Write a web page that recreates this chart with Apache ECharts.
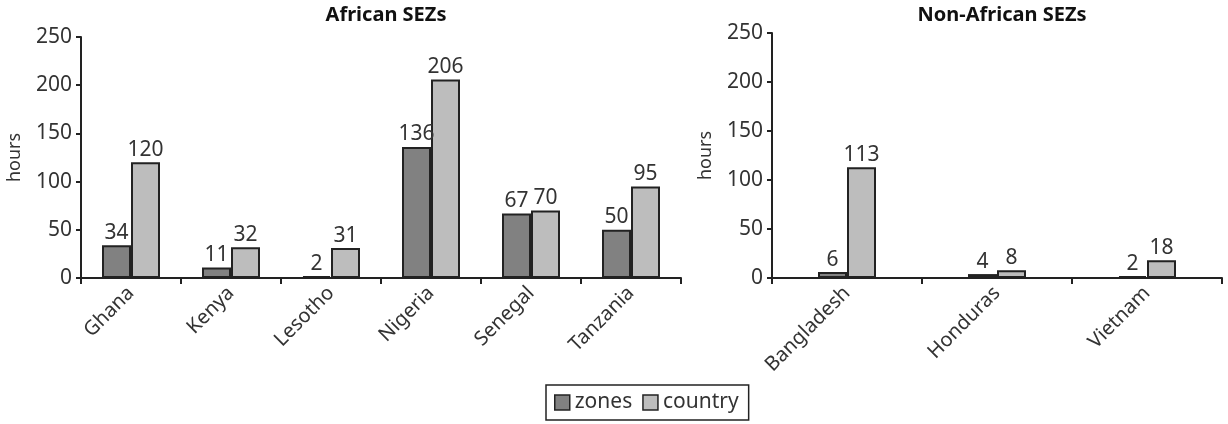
<!DOCTYPE html>
<html><head><meta charset="utf-8">
<script src="https://cdn.jsdelivr.net/npm/echarts@6/dist/echarts.min.js"></script>
<style>html,body{margin:0;padding:0;background:#fff}#c{width:1228px;height:424px}</style>
</head><body><div id="c"></div>
<script>
const africanCats = ['Ghana','Kenya','Lesotho','Nigeria','Senegal','Tanzania'];
const africanZones = [34,11,2,136,67,50];
const africanCountry = [120,32,31,206,70,95];
const nonAfricanCats = ['Bangladesh','Honduras','Vietnam'];
const nonAfricanZones = [6,4,2];
const nonAfricanCountry = [113,8,18];
const yTicks = [0,50,100,150,200,250];
const titles = ['African SEZs','Non-African SEZs'];
const seriesNames = ['zones','country'];

const FONT = '"Noto Sans", sans-serif';
const TXT = '#333';
const zoneColor = '#818181';
const countryColor = '#bdbdbd';
const edge = '#222';

function yAxis(gi){
  return {
    type:'value', gridIndex:gi, min:yTicks[0], max:yTicks[yTicks.length-1], interval:50,
    name:'hours', nameLocation:'middle', nameGap:57, nameRotate:90,
    nameTextStyle:{fontFamily:FONT,fontSize:18,color:TXT},
    axisLine:{show:true,lineStyle:{color:edge,width:2}},
    axisTick:{show:true,length:5,lineStyle:{color:edge,width:2}},
    axisLabel:{fontFamily:FONT,fontSize:21,color:TXT,margin:9},
    splitLine:{show:false}
  };
}
function xAxis(gi,cats){
  return {
    type:'category', gridIndex:gi, data:cats,
    axisLine:{lineStyle:{color:edge,width:2}},
    axisTick:{show:true,length:6,lineStyle:{color:edge,width:2}},
    axisLabel:{fontFamily:FONT,fontSize:20,color:TXT,rotate:45,margin:12,interval:0}
  };
}
function bar(name,gi,data,color){
  return {
    name, type:'bar', xAxisIndex:gi, yAxisIndex:gi, data,
    barWidth:29, barGap:'0%',
    itemStyle:{color, borderColor:edge, borderWidth:2},
    label:{show:true,position:'top',distance:2,fontFamily:FONT,fontSize:21,color:TXT},
    emphasis:{disabled:true}
  };
}

const chart = echarts.init(document.getElementById('c'),null,{renderer:'canvas'});
chart.setOption({
  animation:false,
  title:[
    {text:titles[0],left:381,top:0,textAlign:'center',textStyle:{fontFamily:FONT,fontSize:20,fontWeight:'bold',color:'#111'}},
    {text:titles[1],left:997,top:0,textAlign:'center',textStyle:{fontFamily:FONT,fontSize:20,fontWeight:'bold',color:'#111'}}
  ],
  legend:{
    data:seriesNames.map((n,i)=>({name:n,itemStyle:{color:i?countryColor:zoneColor,borderColor:edge,borderWidth:1.5}})),
    left:546, bottom:4, itemWidth:15, itemHeight:15, itemGap:10,
    icon:'rect',
    borderColor:edge, borderWidth:1.5, padding:[7,10,7,8],
    textStyle:{fontFamily:FONT,fontSize:21,color:TXT}
  },
  grid:[
    {left:81,top:37,width:600,height:241},
    {left:772,top:33,width:450,height:245}
  ],
  xAxis:[xAxis(0,africanCats),xAxis(1,nonAfricanCats)],
  yAxis:[yAxis(0),yAxis(1)],
  series:[
    bar(seriesNames[0],0,africanZones,zoneColor),
    bar(seriesNames[1],0,africanCountry,countryColor),
    bar(seriesNames[0],1,nonAfricanZones,zoneColor),
    bar(seriesNames[1],1,nonAfricanCountry,countryColor)
  ]
});
</script></body></html>
